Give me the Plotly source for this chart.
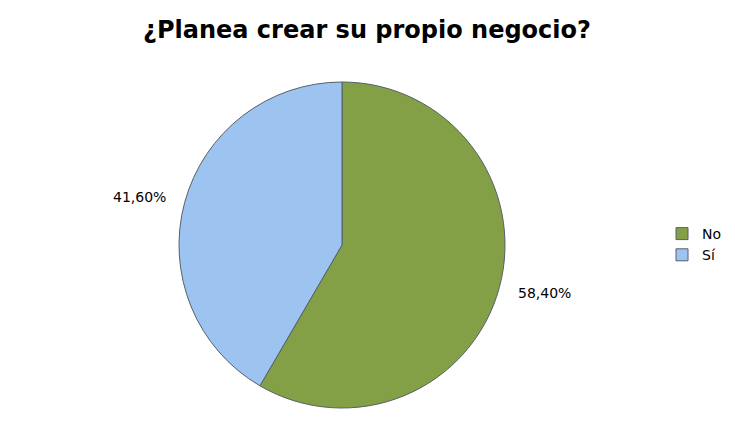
import math
import plotly.graph_objects as go

labels = ["No", "Sí"]
values = [58.40, 41.60]
colors = ["#84A046", "#9DC3F0"]
title = "¿Planea crear su propio negocio?"

# page body has an 8px default margin; work in figure coordinates
OFF = 8
W, H = 735 - OFF, 448 - OFF
cx, cy, r = 342 - OFF, 245 - OFF, 163
dom_x = [(cx - r) / W, (cx + r) / W]
dom_y = [1 - (cy + r) / H, 1 - (cy - r) / H]

fig = go.Figure(go.Pie(
    labels=labels, values=values, sort=False, direction="clockwise", rotation=0,
    marker=dict(colors=colors, line=dict(color="#55606A", width=1)),
    textinfo="none", hoverinfo="label+percent",
    domain=dict(x=dom_x, y=dom_y),
))

total = sum(values)
cum = 0
annotations = []
kx, ky = 1.29, 1.13
for lab, v in zip(labels, values):
    mid = (cum + v / 2) / total * 2 * math.pi
    cum += v
    px = cx + kx * r * math.sin(mid)
    py = cy - ky * r * math.cos(mid)
    annotations.append(dict(
        x=px / W, y=1 - py / H, xref="paper", yref="paper",
        text=f"{v:.2f}%".replace(".", ","), showarrow=False,
        font=dict(family="DejaVu Sans", size=14, color="#000000"),
        xanchor="center", yanchor="middle",
    ))

fig.update_layout(
    width=W, height=H,
    margin=dict(l=0, r=0, t=0, b=0, autoexpand=False),
    paper_bgcolor="white", plot_bgcolor="white",
    title=dict(text=f"<b>{title}</b>", x=(367 - OFF) / W, xanchor="center",
               y=1 - (30 - OFF) / H, yanchor="middle",
               font=dict(family="DejaVu Sans", size=24, color="#000000")),
    legend=dict(x=(662 - OFF) / W, y=1 - (244.5 - OFF) / H, xanchor="left", yanchor="middle",
                font=dict(family="DejaVu Sans", size=14, color="#000000"),
                itemwidth=30, bgcolor="rgba(0,0,0,0)"),
    annotations=annotations,
)

fig.write_html("out.html")
